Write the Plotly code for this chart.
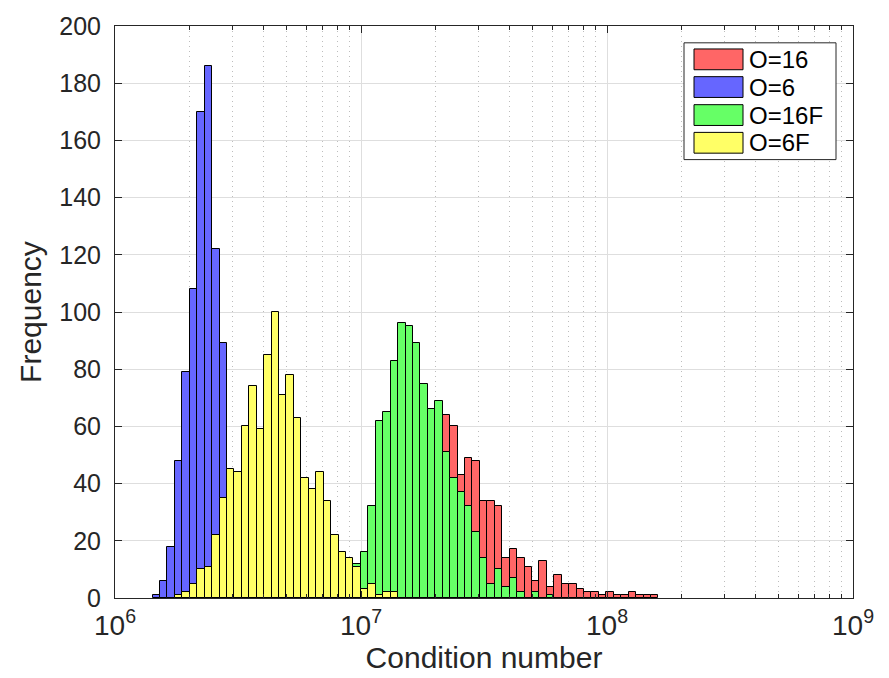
import numpy as np
import plotly.graph_objects as go

# Histogram bins: equal width in log10(condition number)
EDGE0 = 6.1528        # log10 of the first bin's left edge
BIN_W = 0.03024       # bin width in decades

series_names = ["O=16", "O=6", "O=16F", "O=6F"]
series_colors = ["#ff6666", "#6666ff", "#66ff66", "#ffff66"]

# Counts per bin; each series starts at the given bin index
o16_start = 28
o16_counts = [4, 8, 20, 30, 44, 60, 70, 80, 74, 64, 66,
              64, 60, 43, 49, 48, 34, 34, 32, 14, 17, 14, 11, 6, 13, 4, 8,
              5, 5, 3, 2, 2, 1, 2, 1, 1, 2, 1, 1, 1]

o6_start = 0
o6_counts = [1, 6, 18, 48, 79, 108, 170, 186, 122, 89, 42, 35, 30, 25, 20, 12, 6, 3]

o16f_start = 25
o16f_counts = [2, 8, 12, 16, 32, 62, 65, 83, 96, 95, 89, 75, 66, 69, 51, 42, 37,
               32, 23, 14, 5, 10, 4, 7, 2, 0, 2, 0, 1]

o6f_start = 3
o6f_counts = [1, 2, 5, 10, 11, 22, 35, 45, 44, 60, 74, 59, 85, 100, 71, 78, 63,
              42, 38, 44, 34, 22, 16, 14, 11, 3, 5, 1, 2, 2]

x_tick_exponents = [6, 7, 8, 9]
y_ticks = list(range(0, 201, 20))

series = [
    (o16_start, o16_counts),
    (o6_start, o6_counts),
    (o16f_start, o16f_counts),
    (o6f_start, o6f_counts),
]

FONT = "Liberation Sans, Arial, Helvetica, sans-serif"
TXT = "#262626"

fig = go.Figure()
for name, color, (start, counts) in zip(series_names, series_colors, series):
    counts = np.asarray(counts)
    idx = start + np.arange(len(counts))
    centers = EDGE0 + (idx + 0.5) * BIN_W
    keep = counts > 0
    fig.add_trace(go.Bar(
        x=centers[keep], y=counts[keep], width=BIN_W, name=name,
        marker=dict(color=color, line=dict(color="#000000", width=1)),
        showlegend=False,
    ))

# minor ticks/grid at 2..9 x 10^n (in log10 units)
minor_vals = [e + np.log10(k) for e in x_tick_exponents[:-1] for k in range(2, 10)]

fig.update_layout(
    width=889, height=678,
    margin=dict(l=115, r=36, t=22, b=78),
    paper_bgcolor="white", plot_bgcolor="white",
    barmode="overlay", bargap=0,
    font=dict(family=FONT, color=TXT, size=24),
)

fig.update_xaxes(
    range=[6, 9],
    tickmode="array",
    tickvals=x_tick_exponents,
    ticktext=[f"10<sup>{e}</sup>" for e in x_tick_exponents],
    tickfont=dict(size=28, color=TXT),
    ticks="inside", ticklen=7, tickcolor=TXT,
    showline=True, linecolor=TXT, linewidth=1, mirror="allticks",
    showgrid=True, gridcolor="#dedede", gridwidth=1,
    minor=dict(tickmode="array", tickvals=minor_vals, ticks="inside",
               ticklen=4, tickcolor=TXT, showgrid=True,
               gridcolor="#bdbdbd", griddash="1px,4px", gridwidth=1),
    zeroline=False,
    title=dict(text="Condition number", font=dict(size=30, color=TXT), standoff=4),
    ticklabelstandoff=2,
)
fig.update_yaxes(
    range=[0, 200],
    tickmode="array", tickvals=y_ticks,
    tickfont=dict(size=25, color=TXT),
    ticks="inside", ticklen=7, tickcolor=TXT,
    showline=True, linecolor=TXT, linewidth=1, mirror="allticks",
    showgrid=True, gridcolor="#dedede", gridwidth=1,
    zeroline=False,
    title=dict(text="Frequency", font=dict(size=30, color=TXT), standoff=8),
    ticklabelstandoff=8,
)

# legend box drawn in pixel space and converted to paper coordinates
PX0, PX1, PY0, PY1 = 115, 853, 22, 600


def px(x):
    return (x - PX0) / (PX1 - PX0)


def py(y):
    return (PY1 - y) / (PY1 - PY0)


shapes = [dict(type="rect", xref="paper", yref="paper",
               x0=px(684), x1=px(836), y0=py(157), y1=py(39),
               fillcolor="white", line=dict(color=TXT, width=1), layer="above")]
annotations = []
row_centers = [55.7, 83.7, 112.0, 140.0]
for name, color, yc in zip(series_names, series_colors, row_centers):
    shapes.append(dict(type="rect", xref="paper", yref="paper",
                       x0=px(694), x1=px(743), y0=py(yc + 10.5), y1=py(yc - 10.5),
                       fillcolor=color, line=dict(color="#000000", width=1),
                       layer="above"))
    annotations.append(dict(xref="paper", yref="paper", x=px(747), y=py(yc),
                            text=name, showarrow=False, xanchor="left",
                            yanchor="middle",
                            font=dict(size=24, color="#000000", family=FONT)))

fig.update_layout(shapes=shapes, annotations=annotations)

fig.write_html("out.html")
